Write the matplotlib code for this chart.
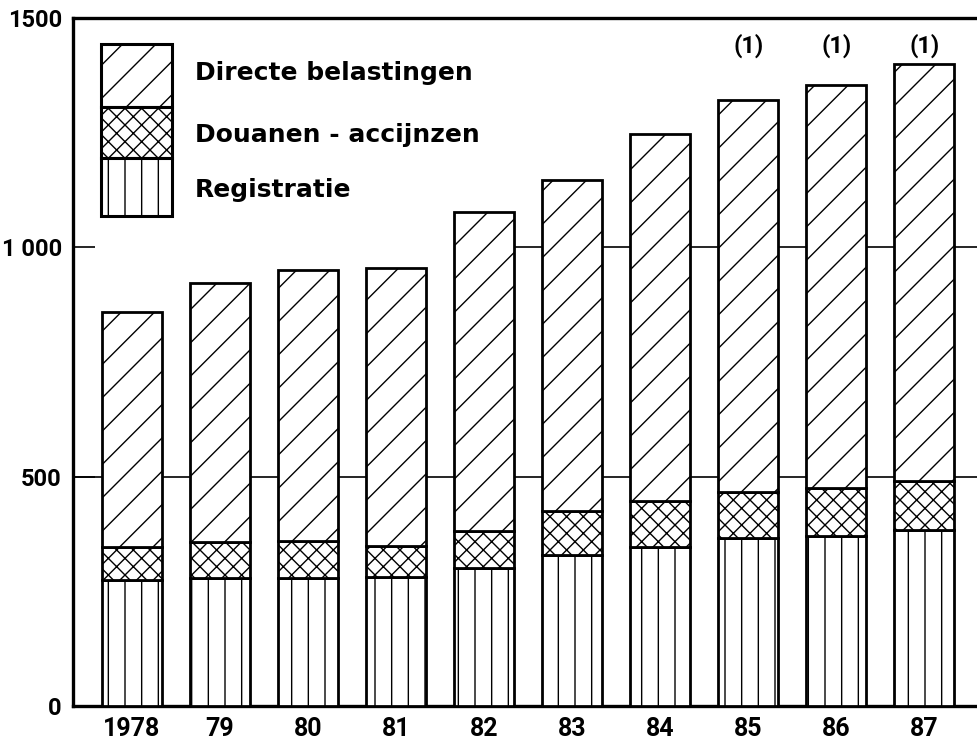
import numpy as np
import matplotlib.pyplot as plt
from matplotlib.patches import Rectangle

# waarden
years = ["1978", "79", "80", "81", "82", "83", "84", "85", "86", "87"]
registratie = [275, 279, 279, 281, 301, 329, 347, 366, 371, 384]
douanen = [72, 79, 81, 68, 81, 96, 100, 101, 104, 106]
directe = [512, 564, 590, 606, 695, 722, 800, 854, 879, 910]
notes = ["", "", "", "", "", "", "", "(1)", "(1)", "(1)"]
labels = ["Directe belastingen", "Douanen - accijnzen", "Registratie"]
hatches = ["//", "xxxx", "||"]

plt.rcParams['hatch.linewidth'] = 0.5
plt.rcParams['hatch.color'] = 'black'

fig = plt.figure(figsize=(4.885, 3.75), dpi=200)
ax = fig.add_axes([0.0747, 0.0587, 0.9253, 0.9173])

x = np.arange(len(years))
reg = np.array(registratie)
dou = np.array(douanen)
dirc = np.array(directe)
w = 0.68
kw = dict(width=w, color='white', edgecolor='black', linewidth=1.0, zorder=3)
ax.bar(x, reg, hatch=hatches[2], **kw)
ax.bar(x, dou, bottom=reg, hatch=hatches[1], **kw)
ax.bar(x, dirc, bottom=reg + dou, hatch=hatches[0], **kw)

# hulplijnen
ax.axhline(500, color='black', lw=0.6, zorder=1)
ax.hlines(1000, 4, 9.6, color='black', lw=0.6, zorder=1)

for xi, n in zip(x, notes):
    if n:
        ax.text(xi, 1440, n, ha='center', va='center', fontsize=8.5,
                family='Roboto', fontweight='bold')

# legende
lx, lw_ = 0.031, 0.079
for (y0, y1), h in zip([(0.871, 0.962), (0.797, 0.871), (0.712, 0.797)], hatches):
    ax.add_patch(Rectangle((lx, y0), lw_, y1 - y0, transform=ax.transAxes,
                           facecolor='white', edgecolor='black', hatch=h,
                           linewidth=1.1, zorder=5, clip_on=False))
for yt, lab in zip([0.920, 0.830, 0.750], labels):
    ax.text(0.135, yt, lab, transform=ax.transAxes, fontsize=9,
            fontweight='bold', va='center', ha='left')

ax.set_xlim(-0.67, 9.6)
ax.set_ylim(0, 1500)
ax.set_xticks(x)
ax.set_xticklabels(years)
ax.set_yticks([0, 500, 1000, 1500])
ax.set_yticklabels(["0", "500", "1 000", "1500"])
ax.tick_params(axis='x', length=0, pad=4)
ax.tick_params(axis='y', direction='in', length=8, width=0.6, pad=4)
for lab in ax.get_xticklabels() + ax.get_yticklabels():
    lab.set_fontfamily('Roboto')
    lab.set_fontweight('bold')
    lab.set_fontsize(9)
for lab in ax.get_yticklabels():
    lab.set_fontsize(8.5)

for s in ['left', 'bottom', 'top']:
    ax.spines[s].set_linewidth(1.2)
ax.spines['right'].set_visible(False)

fig.savefig("out.png", dpi=200)
